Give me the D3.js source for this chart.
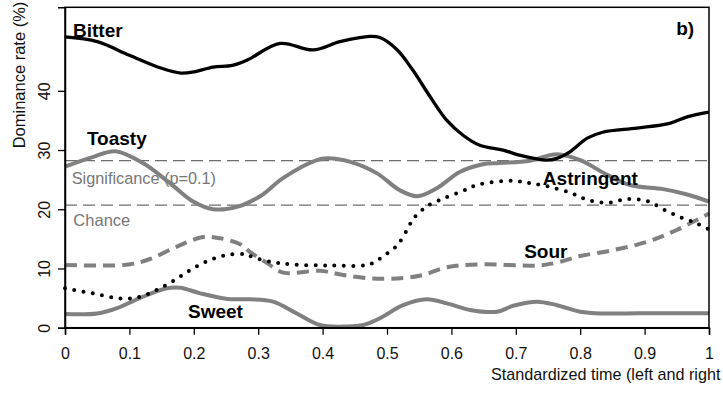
<!DOCTYPE html>
<html>
<head>
<meta charset="utf-8">
<script src="https://cdn.jsdelivr.net/npm/d3@7"></script>
<style>
  html, body { margin: 0; padding: 0; background: #fff; }
  svg { display: block; font-family: "Liberation Sans", Arial, sans-serif; }
</style>
</head>
<body>
<svg id="chart" width="723" height="394"></svg>
<script>
// Dominance curves: [standardized time, dominance rate %]
const bitter = [[0,49.1],[0.05,48.3],[0.1,46.0],[0.15,43.8],[0.18,43.0],[0.2,43.2],[0.23,44.0],[0.26,44.3],
  [0.283,45.2],[0.334,48.0],[0.385,46.9],[0.427,48.3],[0.474,49.2],[0.489,49.0],[0.516,46.9],[0.54,43.5],
  [0.567,39.0],[0.593,35.0],[0.618,32.5],[0.644,30.8],[0.68,30.0],[0.707,29.1],[0.748,28.3],[0.764,28.6],
  [0.784,29.7],[0.811,32.0],[0.835,33.0],[0.888,33.7],[0.939,34.5],[0.966,35.6],[1,36.4]];
const toasty = [[0,27.2],[0.043,28.8],[0.078,29.8],[0.121,27.8],[0.163,24.4],[0.199,21.3],[0.23,20.0],
  [0.267,20.4],[0.303,22.2],[0.339,25.3],[0.391,28.3],[0.407,28.6],[0.443,28.0],[0.484,26.1],[0.52,23.2],
  [0.547,22.2],[0.578,23.6],[0.613,26.3],[0.649,27.6],[0.675,27.8],[0.722,28.2],[0.764,29.3],[0.8,28.3],
  [0.842,25.8],[0.877,24.1],[0.929,23.4],[0.966,22.5],[1,21.3]];
const astringent = [[0,6.65],[0.043,5.8],[0.088,4.9],[0.116,5.2],[0.143,6.4],[0.171,8.1],[0.194,9.7],
  [0.222,11.3],[0.252,12.3],[0.28,12.4],[0.292,11.9],[0.321,11.1],[0.349,10.7],[0.411,10.5],[0.469,10.6],
  [0.484,11.3],[0.494,12.1],[0.508,13.1],[0.52,14.5],[0.533,16.9],[0.54,18.3],[0.551,19.5],[0.562,20.5],
  [0.587,21.8],[0.618,23.1],[0.643,24.2],[0.696,24.8],[0.722,24.4],[0.748,23.9],[0.784,22.8],[0.811,21.6],
  [0.842,21.1],[0.873,21.7],[0.904,21.4],[0.929,20.0],[0.955,18.7],[0.981,17.6],[1,16.6]];
const sour = [[0,10.6],[0.054,10.5],[0.101,10.7],[0.132,11.6],[0.174,13.7],[0.214,15.3],[0.241,15.1],
  [0.272,14.1],[0.287,12.8],[0.314,10.9],[0.339,9.3],[0.396,9.6],[0.432,8.9],[0.478,8.3],[0.525,8.4],
  [0.556,8.9],[0.593,10.2],[0.644,10.7],[0.733,10.5],[0.764,11.0],[0.8,12.1],[0.851,13.1],[0.904,14.5],
  [0.95,16.5],[1,19.3]];
const sweet = [[0,2.3],[0.05,2.4],[0.081,3.3],[0.116,5.0],[0.158,6.65],[0.179,6.75],[0.21,5.8],[0.252,4.85],
  [0.287,4.8],[0.323,4.4],[0.36,2.4],[0.396,0.45],[0.438,0.2],[0.463,0.45],[0.489,1.6],[0.525,3.8],
  [0.562,4.8],[0.593,4.1],[0.629,3.0],[0.671,2.7],[0.696,3.7],[0.733,4.4],[0.764,3.8],[0.8,2.7],
  [0.835,2.4],[0.888,2.45],[1,2.45]];

// Reference levels
const significanceLevel = 28.2;
const chanceLevel = 20.7;

// Axis ticks
const xTicks = [0, 0.1, 0.2, 0.3, 0.4, 0.5, 0.6, 0.7, 0.8, 0.9, 1];
const xTickLabels = ["0", "0.1", "0.2", "0.3", "0.4", "0.5", "0.6", "0.7", "0.8", "0.9", "1"];
const yTicks = [0, 10, 20, 30, 40];

// Curve name labels: [text, time, rate]
const curveLabels = [["Bitter", 0.0124, 49.06], ["Toasty", 0.034, 30.8], ["Astringent", 0.742, 24.1],
  ["Sour", 0.713, 11.7], ["Sweet", 0.191, 1.6]];

(function draw() {
  const svg = d3.select("#chart");
  const pLeft = 65, pRight = 709, pTop = 7.3, pBottom = 327.7;
  const x = d3.scaleLinear().domain([0, 1]).range([pLeft, pRight]);
  const y = d3.scaleLinear().domain([0, 54.1]).range([pBottom, pTop]);

  const grey = "#808080";
  const line = d3.line().x(d => x(d[0])).y(d => y(d[1])).curve(d3.curveCatmullRom.alpha(0.5));

  // reference lines
  const refs = svg.append("g");
  [significanceLevel, chanceLevel].forEach(v => {
    refs.append("line").attr("x1", x(0)).attr("x2", x(1)).attr("y1", y(v)).attr("y2", y(v))
      .attr("stroke", "#6e6e6e").attr("stroke-width", 1.3).attr("stroke-dasharray", "12,6");
  });
  refs.append("text").attr("x", x(0.0104)).attr("y", y(24.25)).attr("fill", "#777")
    .attr("font-size", "16.3px").text("Significance (p=0.1)");
  refs.append("text").attr("x", x(0.013)).attr("y", y(17.1)).attr("fill", "#777")
    .attr("font-size", "16.5px").text("Chance");

  // curves
  const curves = svg.append("g").attr("fill", "none");
  curves.append("path").datum(sweet).attr("d", line).attr("stroke", grey).attr("stroke-width", 4);
  curves.append("path").datum(sour).attr("d", line).attr("stroke", grey).attr("stroke-width", 4)
    .attr("stroke-dasharray", "12,7");
  curves.append("path").datum(astringent).attr("d", line).attr("stroke", "#000").attr("stroke-width", 4)
    .attr("stroke-linecap", "round").attr("stroke-dasharray", "0,9.4");
  curves.append("path").datum(toasty).attr("d", line).attr("stroke", grey).attr("stroke-width", 4);
  curves.append("path").datum(bitter).attr("d", line).attr("stroke", "#000").attr("stroke-width", 3.3);

  // frame
  svg.append("rect").attr("x", pLeft).attr("y", pTop).attr("width", pRight - pLeft).attr("height", pBottom - pTop)
    .attr("fill", "none").attr("stroke", "#000").attr("stroke-width", 1.5);

  // axes
  const xAxis = svg.append("g").attr("transform", `translate(0,${pBottom})`)
    .call(d3.axisBottom(x).tickValues(xTicks).tickFormat((d, i) => xTickLabels[i]).tickSize(7).tickPadding(13));
  xAxis.select(".domain").attr("stroke-width", 1.5);
  xAxis.selectAll(".tick line").attr("stroke-width", 1.3);
  xAxis.selectAll("text").attr("font-size", "16px").attr("fill", "#111")
    .attr("font-family", "'Liberation Sans', Arial, sans-serif");

  const yAxis = svg.append("g").attr("transform", `translate(${pLeft},0)`)
    .call(d3.axisLeft(y).tickValues(yTicks).tickSize(7).tickFormat(d3.format("d")));
  yAxis.select(".domain").attr("stroke-width", 1.5);
  yAxis.selectAll(".tick line").attr("stroke-width", 1.3);
  yAxis.selectAll("text").attr("font-size", "16px").attr("fill", "#111")
    .attr("font-family", "'Liberation Sans', Arial, sans-serif")
    .attr("x", null).attr("dy", null).attr("text-anchor", "middle")
    .attr("transform", "translate(-15,0) rotate(-90)");

  // axis titles
  svg.append("text").attr("transform", "translate(25,75) rotate(-90)").attr("text-anchor", "middle")
    .attr("font-size", "16.5px").attr("fill", "#111").text("Dominance rate (%)");
  svg.append("text").attr("x", 491).attr("y", 380).attr("font-size", "16.2px").attr("fill", "#111")
    .text("Standardized time (left and right");

  // curve labels
  svg.append("g").selectAll("text").data(curveLabels).join("text")
    .attr("x", d => x(d[1])).attr("y", d => y(d[2]))
    .attr("font-size", "19px").attr("font-weight", "bold").attr("fill", "#000")
    .text(d => d[0]);

  svg.append("text").attr("x", x(0.977)).attr("y", y(49.4)).attr("text-anchor", "end")
    .attr("font-size", "19px").attr("font-weight", "bold").text("b)");
})();
</script>
</body>
</html>
